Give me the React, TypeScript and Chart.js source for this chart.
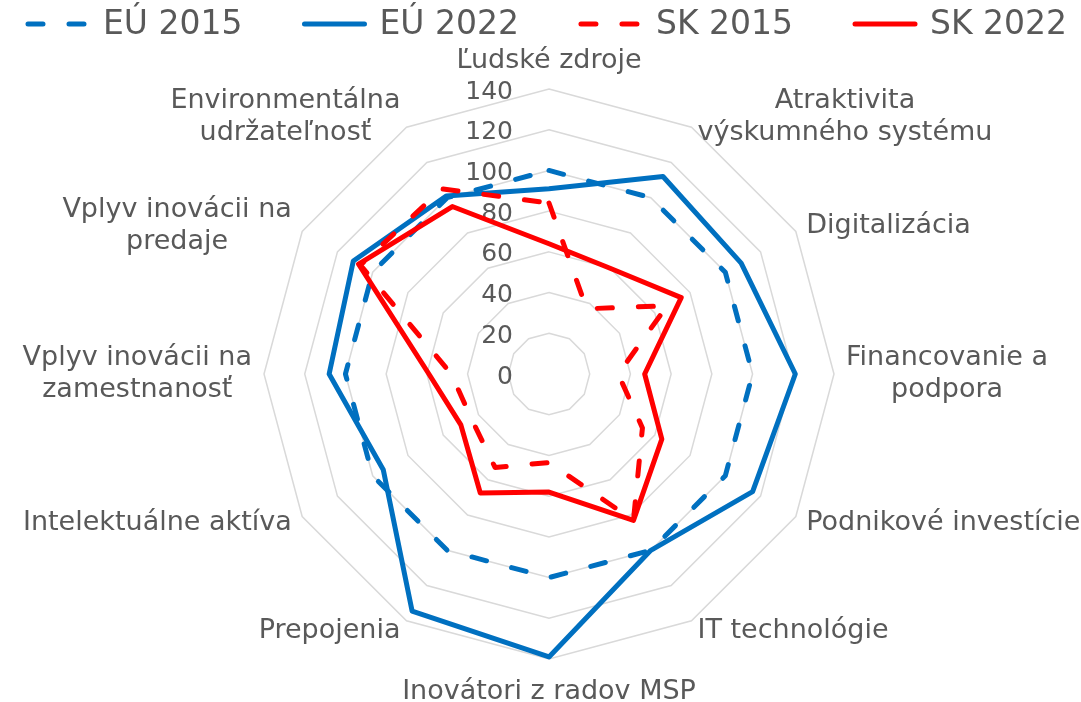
import React, { useEffect, useRef } from 'react';
import { Chart, registerables } from 'chart.js';

Chart.register(...registerables);

const categories: (string | string[])[] = [
  'Ľudské zdroje',
  ['Atraktivita', 'výskumného systému'],
  'Digitalizácia',
  ['Financovanie a', 'podpora'],
  'Podnikové investície',
  'IT technológie',
  'Inovátori z radov MSP',
  'Prepojenia',
  'Intelektuálne aktíva',
  ['Vplyv inovácii na', 'zamestnanosť'],
  ['Vplyv inovácii na', 'predaje'],
  ['Environmentálna', 'udržateľnosť'],
];

const seriesNames = ['EÚ 2015', 'EÚ 2022', 'SK 2015', 'SK 2022'];

const eu2015 = [100, 100, 100, 100, 100, 100, 100, 100, 100, 100, 100, 100];
const eu2022 = [91, 112, 109, 121, 115.5, 100, 139, 134.5, 94, 108, 111, 101];
const sk2015 = [84, 37, 67, 34, 53, 83, 43.5, 53, 44, 48, 107, 105];
const sk2022 = [64, 60, 75, 47, 64, 83, 58, 67.5, 50, 59, 108, 95];

const tickValues = [0, 20, 40, 60, 80, 100, 120, 140];

const BLUE = '#0070C0';
const RED = '#FF0000';
const TEXT = '#595959';
const FONT = '"DejaVu Sans", Verdana, sans-serif';
const DASH = [15, 26];

const tickLabelPlugin = {
  id: 'tickLabelPlugin',
  beforeDatasetsDraw(chart: any) {
    const r = chart.scales.r;
    const ctx = chart.ctx;
    ctx.save();
    ctx.font = `25px ${FONT}`;
    ctx.fillStyle = TEXT;
    ctx.textAlign = 'right';
    ctx.textBaseline = 'middle';
    tickValues.forEach((v) => {
      const d = r.getDistanceFromCenterForValue(v);
      ctx.fillText(String(v), r.xCenter - 36, r.yCenter - d + 3);
    });
    ctx.restore();
  },
};

const pointLabelPlugin = {
  id: 'pointLabelPlugin',
  afterDraw(chart: any) {
    const r = chart.scales.r;
    const ctx = chart.ctx;
    const labels = chart.data.labels as (string | string[])[];
    const n = labels.length;
    const lineH = 32;
    ctx.save();
    ctx.font = `27px ${FONT}`;
    ctx.fillStyle = TEXT;
    ctx.textBaseline = 'middle';
    ctx.textAlign = 'center';
    labels.forEach((lab, i) => {
      const lines = Array.isArray(lab) ? lab : [lab];
      const angleDeg = (360 / n) * i;
      const p = r.getPointPosition(i, r.drawingArea + 12);
      const w = Math.max(...lines.map((l) => ctx.measureText(l).width));
      const h = lines.length * lineH;
      let cx: number;
      let cy: number;
      if (angleDeg === 0) {
        cx = p.x;
        cy = p.y - h / 2;
      } else if (angleDeg === 180) {
        cx = p.x;
        cy = p.y + h / 2 + 5;
      } else if (angleDeg < 180) {
        cx = p.x + w / 2;
        cy = p.y;
      } else {
        cx = p.x - w / 2;
        cy = p.y;
      }
      lines.forEach((l, k) => {
        ctx.fillText(l, cx, cy - h / 2 + lineH * k + lineH / 2);
      });
    });
    ctx.restore();
  },
};

const legendPlugin = {
  id: 'legendPlugin',
  afterDraw(chart: any) {
    const ctx = chart.ctx;
    const sample = 60;
    const gap = 62;
    const y = 24;
    ctx.save();
    ctx.font = `33px ${FONT}`;
    ctx.textBaseline = 'middle';
    ctx.textAlign = 'left';
    let x = 28;
    chart.data.datasets.forEach((ds: any) => {
      ctx.save();
      ctx.strokeStyle = ds.borderColor;
      ctx.lineWidth = ds.borderWidth;
      ctx.lineCap = 'round';
      ctx.setLineDash(ds.borderDash || []);
      ctx.beginPath();
      ctx.moveTo(x, y);
      ctx.lineTo(x + sample, y);
      ctx.stroke();
      ctx.restore();
      ctx.fillStyle = TEXT;
      const tx = x + sample + 15;
      ctx.fillText(ds.label, tx, y + 1);
      x = tx + ctx.measureText(ds.label).width + gap;
    });
    ctx.restore();
  },
};

export default function App() {
  const canvasRef = useRef<HTMLCanvasElement | null>(null);

  useEffect(() => {
    if (!canvasRef.current) return;
    const mk = (label: string, data: number[], color: string, dashed: boolean, order: number) => ({
      label,
      data,
      borderColor: color,
      backgroundColor: color,
      borderWidth: 5,
      borderDash: dashed ? DASH : [],
      borderCapStyle: 'round',
      borderJoinStyle: 'round',
      pointRadius: 0,
      pointHoverRadius: 0,
      fill: false,
      tension: 0,
      order,
    });
    const chart = new Chart(canvasRef.current, {
      type: 'radar',
      data: {
        labels: categories,
        datasets: [
          mk(seriesNames[0], eu2015, BLUE, true, 4),
          mk(seriesNames[1], eu2022, BLUE, false, 3),
          mk(seriesNames[2], sk2015, RED, true, 2),
          mk(seriesNames[3], sk2022, RED, false, 1),
        ] as any,
      },
      options: {
        responsive: true,
        maintainAspectRatio: false,
        animation: false,
        layout: { padding: { left: 17, right: 0, top: 89, bottom: 43 } },
        plugins: {
          legend: { display: false },
          tooltip: { enabled: false },
        },
        scales: {
          r: {
            min: 0,
            max: 140,
            ticks: { stepSize: 20, display: false },
            pointLabels: { display: false },
            angleLines: { display: false },
            grid: { color: '#d9d9d9', lineWidth: 1.5 },
          },
        },
      } as any,
      plugins: [tickLabelPlugin, pointLabelPlugin, legendPlugin],
    });
    return () => chart.destroy();
  }, []);

  return (
    <div style={{ position: 'fixed', left: 0, top: 0, width: 1081, height: 702, background: '#fff' }}>
      <canvas ref={canvasRef} />
    </div>
  );
}
